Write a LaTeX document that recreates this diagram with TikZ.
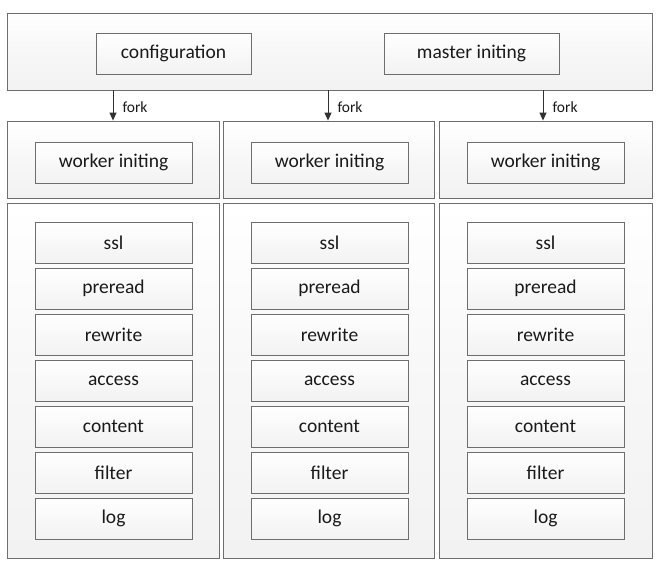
\documentclass[tikz,border=0pt]{standalone}
\usepackage{fontspec}
\setmainfont{Carlito}
\usetikzlibrary{arrows.meta,shadows}
\definecolor{edge}{HTML}{6E6E6E}
\definecolor{cfill}{HTML}{F2F2F2}
\definecolor{ink}{HTML}{1A1A1A}
\tikzset{
  container/.style={draw=edge, line width=0.9pt, top color=white, bottom color=cfill, middle color=cfill!60!white, shading angle=0, inner sep=0pt, drop shadow={shadow xshift=0.8pt, shadow yshift=-0.8pt, fill=gray!35, opacity=1}},
  inbox/.style={draw=edge, line width=0.9pt, top color=white, bottom color=cfill, shading angle=0, minimum width=157pt, minimum height=41pt, inner sep=0pt, font=\fontsize{19.5}{22}\selectfont, text=ink, drop shadow={shadow xshift=0.8pt, shadow yshift=-0.8pt, fill=gray!35, opacity=1}},
  arr/.style={draw=ink!90, line width=1pt, -{Triangle[width=7pt,length=8pt]}},
  lbl/.style={font=\fontsize{15.5}{17}\selectfont, text=ink, inner sep=0pt, anchor=west}
}
\begin{document}
\begin{tikzpicture}[x=1pt,y=-1pt]
\useasboundingbox (0,0) rectangle (659,571);
% top container
\node[container, minimum width=645pt, minimum height=77pt] (top) at (329.5,51.5) {};
\node[inbox, minimum width=155pt] (conf) at (173.5,53.5) {configuration};
\node[inbox, minimum width=175pt] (master) at (471.5,53.5) {master initing};
% columns
\foreach \i/\cx/\cw/\bx in {1/113/212/113.5, 2/328.5/211/329.5, 3/545.5/213/545.5} {
  \node[container, minimum width=\cw pt, minimum height=77pt] (w\i) at (\cx,159.5) {};
  \node[container, minimum width=\cw pt, minimum height=355pt] (b\i) at (\cx,380.5) {};
  \node[inbox] (wi\i) at (\bx,162.5) {worker initing};
  \foreach \t [count=\k from 0] in {ssl,preread,rewrite,access,content,filter,log} {
    \node[inbox] (s\i\k) at (\bx,242.5+46*\k) {\t};
  }
}
\coordinate (a1) at (113,0);
\coordinate (a2) at (328,0);
\coordinate (a3) at (543,0);
\foreach \i in {1,2,3} {
  \draw[arr] (top.south -| a\i) -- (w\i.north -| a\i) node[lbl, pos=0.5, xshift=9pt, yshift=-2pt] (f\i) {fork};
}
\end{tikzpicture}
\end{document}
